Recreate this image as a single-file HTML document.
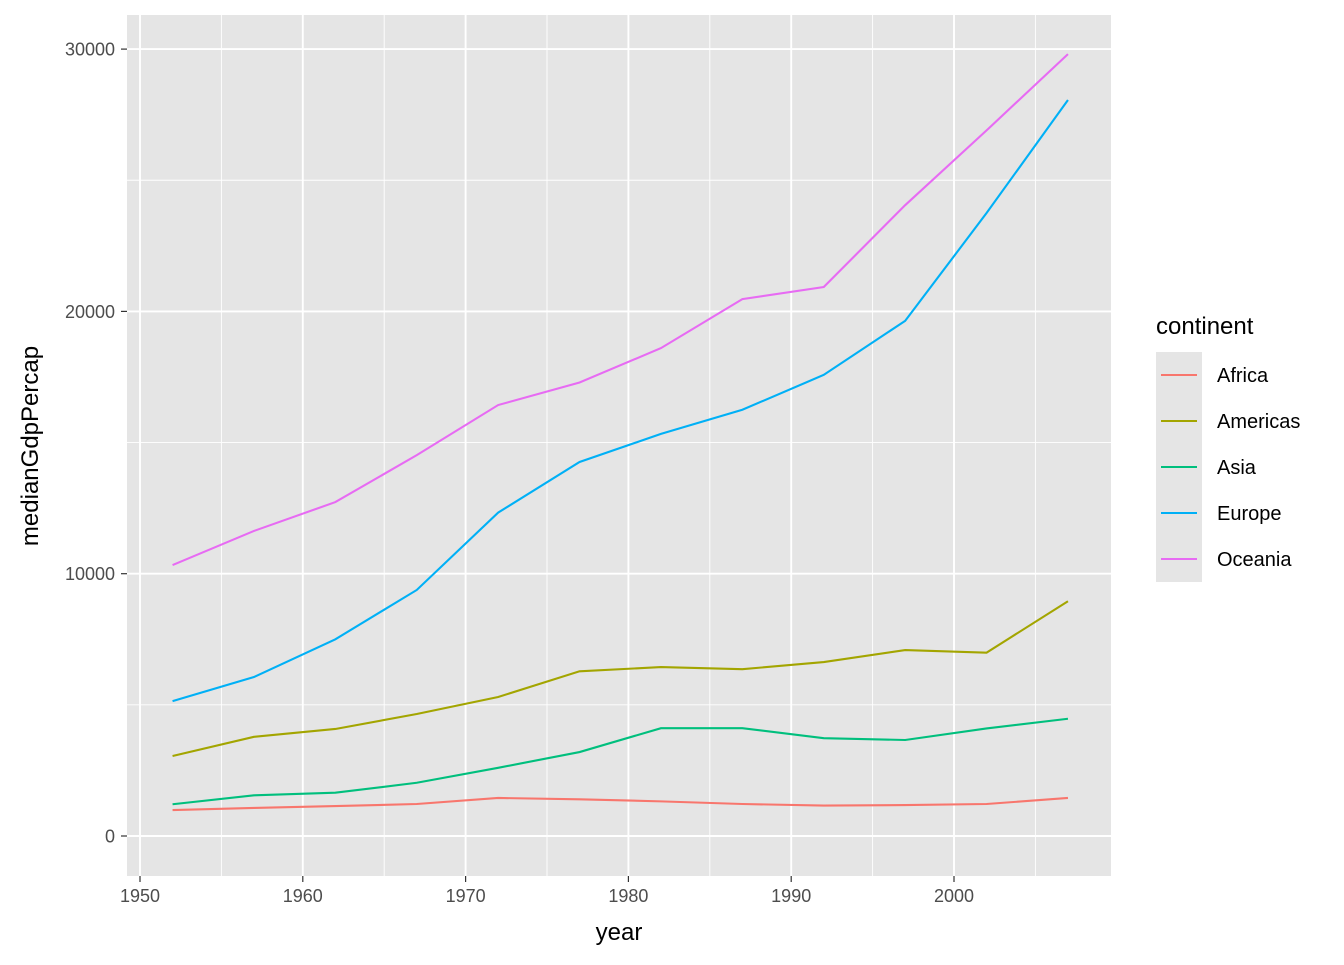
<!DOCTYPE html>
<html><head><meta charset="utf-8"><style>
body{margin:0;background:#fff}
svg text{font-family:"Liberation Sans",Arial,sans-serif}
</style></head><body>
<svg id="chart" width="1344" height="960" xmlns="http://www.w3.org/2000/svg">
<rect x="127" y="15" width="984" height="861" fill="#e5e5e5"/>
<g id="grid"></g><g id="series"></g><g id="axes"></g><g id="legend"></g>
</svg>
<script>
const years=[1952,1957,1962,1967,1972,1977,1982,1987,1992,1997,2002,2007];
const continents=["Africa","Americas","Asia","Europe","Oceania"];
const africa=[990,1070,1140,1220,1450,1400,1320,1220,1160,1180,1220,1450];
const americas=[3050,3780,4080,4650,5300,6280,6440,6360,6630,7090,6990,8950];
const asia=[1210,1550,1650,2030,2600,3200,4110,4110,3730,3660,4100,4470];
const europe=[5140,6060,7500,9380,12330,14260,15330,16250,17580,19640,23750,28060];
const oceania=[10330,11630,12730,14520,16430,17290,18600,20470,20930,24050,26900,29810];
const xTicks=[1950,1960,1970,1980,1990,2000];
const yTicks=[0,10000,20000,30000];
const colors=["#F8766D","#A3A500","#00BF7D","#00B0F6","#E76BF3"];
const seriesData=[africa,americas,asia,europe,oceania];
const ns="http://www.w3.org/2000/svg";
const X=v=>140+(v-1950)*16.28;
const Y=v=>836-v*0.02623;
function mk(tag,attrs,parent){const e=document.createElementNS(ns,tag);for(const k in attrs)e.setAttribute(k,attrs[k]);parent.appendChild(e);return e;}
const grid=document.getElementById('grid'),ser=document.getElementById('series'),ax=document.getElementById('axes'),leg=document.getElementById('legend');
for(let i=0;i<xTicks.length;i++){
 const m=xTicks[i]+5; if(X(m)<1111){const l=mk('line',{x1:X(m),x2:X(m),y1:15,y2:876,stroke:'#fff','stroke-width':0.9},grid);
 
 }
}
for(let i=0;i<yTicks.length;i++){
 const m=yTicks[i]+5000; if(Y(m)>15){const l=mk('line',{x1:127,x2:1111,y1:Y(m),y2:Y(m),stroke:'#fff','stroke-width':0.9},grid);
 
 }
}
xTicks.forEach(t=>{
 const l=mk('line',{x1:X(t),x2:X(t),y1:15,y2:876,stroke:'#fff','stroke-width':1.9},grid);
 
 
 const k=mk('line',{x1:X(t),x2:X(t),y1:876,y2:882,stroke:'#333','stroke-width':1.2},ax);
 
 
 const tx=mk('text',{x:X(t),y:902,'text-anchor':'middle','font-size':18,fill:'#4d4d4d'},ax);tx.textContent=t;
 
 
});
yTicks.forEach(t=>{
 const l=mk('line',{x1:127,x2:1111,y1:Y(t),y2:Y(t),stroke:'#fff','stroke-width':1.9},grid);
 
 
 const k=mk('line',{x1:121,x2:127,y1:Y(t),y2:Y(t),stroke:'#333','stroke-width':1.2},ax);
 
 
 const tx=mk('text',{x:115,y:Y(t)+6.5,'text-anchor':'end','font-size':18,fill:'#4d4d4d'},ax);tx.textContent=t;
 
 
});
seriesData.forEach((d,i)=>{
 const p=mk('polyline',{points:d.map((v,j)=>X(years[j])+','+Y(v)).join(' '),fill:'none',stroke:colors[i],'stroke-width':2.1},ser);
 
 
});
let t=mk('text',{x:619,y:940,'text-anchor':'middle','font-size':24,fill:'#000'},ax);t.textContent='year';


t=mk('text',{x:36,y:446,'text-anchor':'middle','font-size':24,fill:'#000',transform:'rotate(-90 36 446)'},ax);t.textContent='medianGdpPercap';
t.setAttribute('x',30);t.setAttribute('transform','rotate(-90 30 446)');t.setAttribute('y',454);


t=mk('text',{x:1156,y:334,'font-size':24,fill:'#000'},leg);t.textContent='continent';


continents.forEach((c,i)=>{
 const cy=375+i*46;
 const r=mk('rect',{x:1156,y:cy-23,width:46,height:46,fill:'#e5e5e5'},leg);
 
 
 const l=mk('line',{x1:1161,x2:1197,y1:cy,y2:cy,stroke:colors[i],'stroke-width':2.1},leg);
 
 
 const tx=mk('text',{x:1217,y:cy+7,'font-size':20,fill:'#000'},leg);tx.textContent=c;
 
 
});
</script>
</body></html>
